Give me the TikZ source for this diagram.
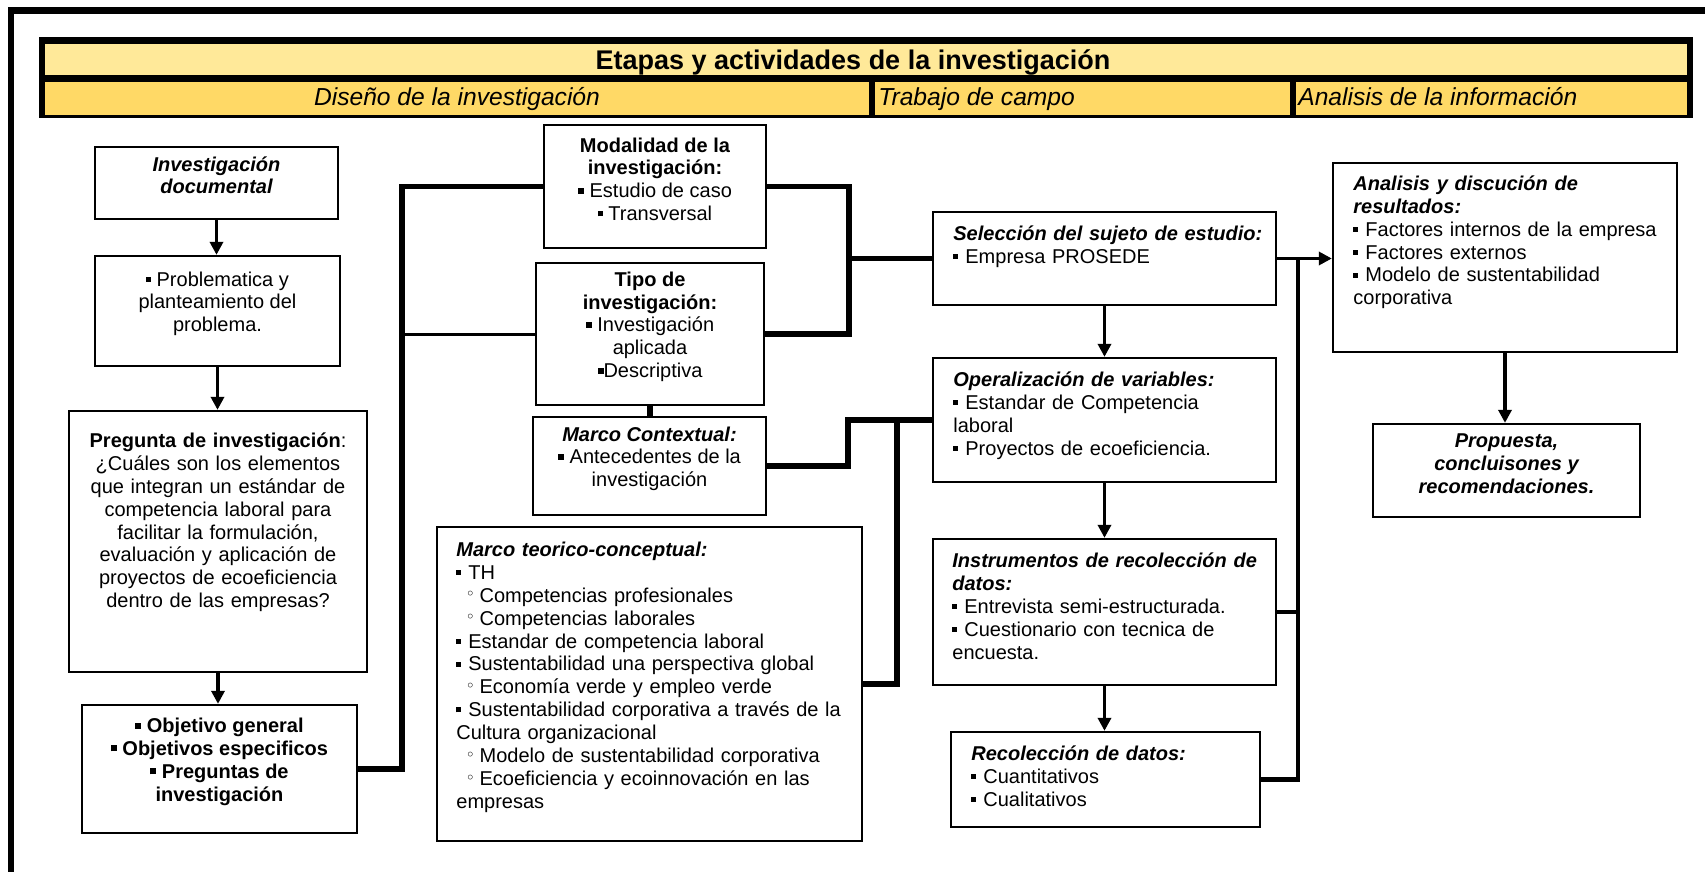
\documentclass[tikz,border=0pt]{standalone}
\usepackage{fontspec}
\setmainfont{Liberation Sans}
\newfontfamily\symf{DejaVu Sans}
\usetikzlibrary{arrows.meta,fit,calc}

% bullets
\newcommand{\sqr}{\raisebox{0.22em}{\rule{0.25em}{0.25em}}}
\newcommand{\sqbig}{\raisebox{0.2em}{\rule{0.3em}{0.3em}}}
\newcommand{\pbul}{\makebox[6pt][l]{\sqr}}
\newcommand{\psm}{\sqr\ }
\newcommand{\pbig}{\sqbig\ }
\newcommand{\psub}{\hspace*{4.6pt}\makebox[7pt][l]{\raisebox{1.2pt}{\symf\fontsize{8}{8}\selectfont ◦}}}
\newcommand{\tstrut}{\rule{0pt}{9.5pt}}

\definecolor{titlefill}{HTML}{FFE999}
\definecolor{subfill}{HTML}{FFD966}

\begin{document}
\begin{tikzpicture}[x=0.5pt,y=-0.5pt,
  box/.style={draw=black, line width=1.15pt, inner sep=0pt, fill=white,
    font=\fontsize{10}{11.45}\selectfont, align=center},
  txt/.style={inner sep=0pt, font=\fontsize{10}{11.45}\selectfont, align=left, anchor=north west},
  band/.style={inner sep=0pt},
  link/.style={line width=2.6pt, line join=miter},
  thinlink/.style={line width=1.5pt},
  vlink/.style={line width=2.2pt, line join=miter},
  arr/.style={line width=1.7pt, -{Triangle[width=6.5pt,length=6.5pt]}}
]
\fill[white] (0,0) rectangle (1705,872);
\useasboundingbox (0,0) rectangle (1705,872);

% page frame
\draw[line width=3.3pt, line join=miter] (11,880) -- (11,10.5) -- (1712,10.5);

% header bands
\fill[black] (39,37) rectangle (1693,118);
\node[band, fill=titlefill, fit={(45,44)(1687,75)}] (title) {};
\node[band, fill=subfill, fit={(45,82)(869,115)}] (s1) {};
\node[band, fill=subfill, fit={(875,82)(1290,115)}] (s2) {};
\node[band, fill=subfill, fit={(1296,82)(1687,115)}] (s3) {};
\node[inner sep=0pt, anchor=base, font=\fontsize{13.5}{16}\selectfont\bfseries] (titlet) at (853,70) {Etapas y actividades de la investigación};
\node[inner sep=0pt, anchor=base, font=\fontsize{12.3}{14}\selectfont\itshape] (s1t) at (457,106) {Diseño de la investigación};
\node[inner sep=0pt, anchor=base west, font=\fontsize{12.3}{14}\selectfont\itshape] (s2t) at (878,106) {Trabajo de campo};
\node[inner sep=0pt, anchor=base west, font=\fontsize{12.3}{14}\selectfont\itshape] (s3t) at (1298,106) {Analisis de la información};

% left column
\node[box, fit={(95,147)(338,219)}, font=\fontsize{10}{10.9}\selectfont\bfseries\itshape] (inv) {Investigación\\documental};
\node[box, fit={(95,256)(340,366)}] (prob) {\psm Problematica y\\planteamiento del\\problema.};
\node[box, fit={(69,411)(367,672)}] (preg) {};
\node[txt, anchor=north, align=center, text width=145pt] (pregt) at (218,428) {\tstrut\textbf{Pregunta de investigación}:\\¿Cuáles son los elementos\\que integran un estándar de\\competencia laboral para\\facilitar la formulación,\\evaluación y aplicación de\\proyectos de ecoeficiencia\\dentro de las empresas?};
\node[box, fit={(82,705)(357,833)}, font=\fontsize{10}{11.45}\selectfont\bfseries] (obj) {\pbig Objetivo general\\\pbig Objetivos especificos\\\pbig Preguntas de\\investigación};

% design column
\node[box, fit={(544,125)(766,248)}] (mod) {\textbf{Modalidad de la}\\\textbf{investigación:}\\\pbig Estudio de caso\\\psm Transversal};
\node[box, fit={(536,263)(764,405)}] (tipo) {\textbf{Tipo de}\\\textbf{investigación:}\\\pbig Investigación\\aplicada\\\sqbig Descriptiva};
\node[box, fit={(533,417)(766,515)}] (mc) {\textbf{\textit{Marco Contextual:}}\\\pbig Antecedentes de la\\investigación};
\node[box, fit={(437,527)(862,841)}] (mt) {};
\node[txt, text width=200pt] (mtt) at (456,537) {\tstrut\textbf{\textit{Marco teorico-conceptual:}}\\
\pbul TH\\
\psub Competencias profesionales\\
\psub Competencias laborales\\
\pbul Estandar de competencia laboral\\
\pbul Sustentabilidad una perspectiva global\\
\psub Economía verde y empleo verde\\
\pbul Sustentabilidad corporativa a través de la\\
Cultura organizacional\\
\psub Modelo de sustentabilidad corporativa\\
\psub Ecoeficiencia y ecoinnovación en las\\
empresas};

% field work column
\node[box, fit={(933,212)(1276,305)}] (sel) {};
\node[txt, text width=160pt] (selt) at (953,221) {\tstrut\textbf{\textit{Selección del sujeto de estudio:}}\\\pbul Empresa PROSEDE};
\node[box, fit={(933,358)(1276,482)}] (op) {};
\node[txt, text width=160pt] (opt) at (953,367) {\tstrut\textbf{\textit{Operalización de variables:}}\\\pbul Estandar de Competencia\\laboral\\\pbul Proyectos de ecoeficiencia.};
\node[box, fit={(933,539)(1276,685)}] (ins) {};
\node[txt, text width=160pt] (inst) at (952,548) {\tstrut\textbf{\textit{Instrumentos de recolección de}}\\\textbf{\textit{datos:}}\\\pbul Entrevista semi-estructurada.\\\pbul Cuestionario con tecnica de\\encuesta.};
\node[box, fit={(951,732)(1260,827)}] (rec) {};
\node[txt, text width=140pt] (rect) at (971,741) {\tstrut\textbf{\textit{Recolección de datos:}}\\\pbul Cuantitativos\\\pbul Cualitativos};

% analysis column
\node[box, fit={(1333,163)(1677,352)}] (an) {};
\node[txt, text width=160pt] (ant) at (1353,171) {\tstrut\textbf{\textit{Analisis y discución de}}\\\textbf{\textit{resultados:}}\\\pbul Factores internos de la empresa\\\pbul Factores externos\\\pbul Modelo de sustentabilidad\\corporativa};
\node[box, fit={(1373,424)(1640,517)}, font=\fontsize{10}{11.45}\selectfont\bfseries\itshape] (prop) {Propuesta,\\concluisones y\\recomendaciones.};

% junction columns
\coordinate (jL) at (402,0);
\coordinate (jM) at (849,0);
\coordinate (jN) at (848,0);
\coordinate (jT) at (897,0);
\coordinate (jR) at (1298,0);

% connectors
\draw[arr] (inv.south) -- (inv.south |- prob.north);
\draw[arr] (prob.south) -- (prob.south |- preg.north);
\draw[arr] (preg.south) -- (preg.south |- obj.north);
\draw[link] (obj.east) -| (jL |- mod.west) -- (mod.west);
\draw[thinlink] (jL |- tipo.west) -- (tipo.west);
\draw[link] (mod.east) -| (jM |- tipo.east) -- (tipo.east);
\draw[link] (jM |- sel.west) -- (sel.west);
\draw[link] (tipo.south) -- (tipo.south |- mc.north);
\draw[link] (mc.east) -| (jN |- op.west) -- (op.west);
\draw[link] (jT |- op.west) |- (mt.east);
\draw[arr] (sel.south) -- (sel.south |- op.north);
\draw[arr] (op.south) -- (op.south |- ins.north);
\draw[arr] (ins.south) -- (ins.south |- rec.north);
\draw[arr] (sel.east) -- (sel.east -| an.west);
\draw[vlink] (jR |- sel.east) |- (rec.east);
\draw[vlink] (ins.east) -- (jR |- ins.east);
\draw[arr] (an.south) -- (an.south |- prop.north);
\end{tikzpicture}
\end{document}
